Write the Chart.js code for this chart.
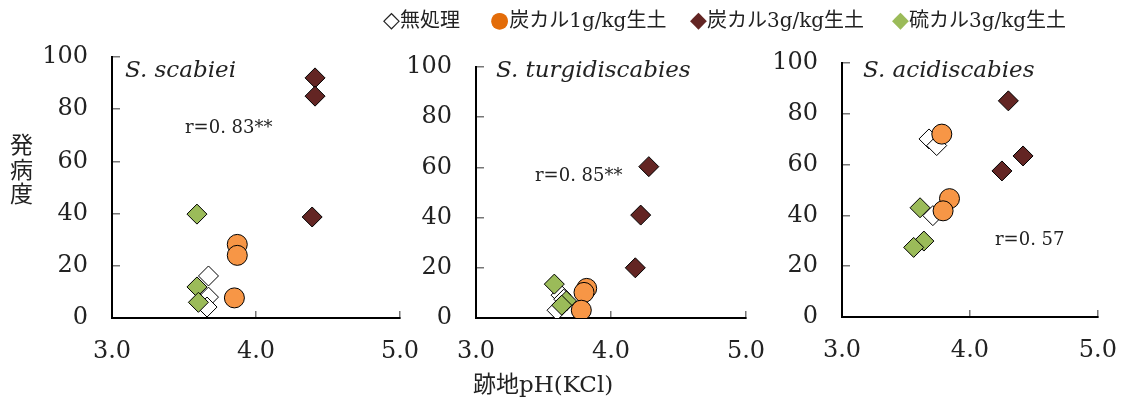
<!DOCTYPE html>
<html>
<head>
<meta charset="utf-8">
<script src="https://cdn.jsdelivr.net/npm/chart.js@4"></script>
<style>
  body { margin: 0; background: #fff; }
  #wrap { position: relative; width: 1143px; height: 401px; overflow: hidden; font-family: "DejaVu Serif", "Noto Sans CJK JP", serif; color: #222; }
  canvas { position: absolute; left: 0; top: 0; }
  .txt { position: absolute; white-space: nowrap; line-height: 1; }
  .sp { font-style: italic; font-size: 23px; }
  .r { font-size: 18px; }
  .leg { font-size: 20px; top: 9px; }
  .mk { font-size: 22px; }
</style>
</head>
<body>
<div id="wrap">
  <canvas id="c1" width="1143" height="401"></canvas>
  <canvas id="c2" width="1143" height="401"></canvas>
  <canvas id="c3" width="1143" height="401"></canvas>

  <div class="txt leg" style="left:383px"><span class="mk">◇</span>無処理</div>
  <div class="txt leg" style="left:490px"><span class="mk" style="color:#E36C09">●</span>炭カル1g/kg生土</div>
  <div class="txt leg" style="left:690px"><span class="mk" style="color:#632523">◆</span>炭カル3g/kg生土</div>
  <div class="txt leg" style="left:892px"><span class="mk" style="color:#9BBB59">◆</span>硫カル3g/kg生土</div>

  <div class="txt sp" style="left:125px; top:58px">S. scabiei</div>
  <div class="txt sp" style="left:496px; top:58px">S. turgidiscabies</div>
  <div class="txt sp" style="left:863px; top:58px">S. acidiscabies</div>

  <div class="txt r" style="left:185px; top:118px">r=0. 83**</div>
  <div class="txt r" style="left:535px; top:166px">r=0. 85**</div>
  <div class="txt r" style="left:995px; top:230px">r=0. 57</div>

  <div class="txt" style="left:10px; top:131px; font-size:23px; line-height:24.5px; font-family:'Noto Sans CJK JP'">発<br>病<br>度</div>
  <div class="txt" style="left:473px; top:373px; font-size:23px">跡地pH(KCl)</div>
</div>

<script>
// legend labels
var seriesNames = ['無処理', '炭カル1g/kg生土', '炭カル3g/kg生土', '硫カル3g/kg生土'];

// S. scabiei: pH (x) and disease index (y)
var ph1None = [3.67, 3.67, 3.66];
var di1None = [16.1, 8.0, 4.2];
var ph1Ca1 = [3.87, 3.87, 3.85];
var di1Ca1 = [28.2, 24.0, 7.7];
var ph1Ca3 = [4.41, 4.41, 4.39];
var di1Ca3 = [92.0, 85.0, 38.7];
var ph1S3 = [3.59, 3.59, 3.60];
var di1S3 = [39.8, 11.9, 6.0];

// S. turgidiscabies
var ph2None = [3.63, 3.65, 3.60];
var di2None = [9.1, 7.5, 3.1];
var ph2Ca1 = [3.82, 3.80, 3.78];
var di2Ca1 = [11.8, 10.2, 3.1];
var ph2Ca3 = [4.28, 4.22, 4.18];
var di2Ca3 = [60.3, 41.0, 20.0];
var ph2S3 = [3.58, 3.67, 3.635];
var di2S3 = [13.5, 6.8, 5.1];

// S. acidiscabies
var ph3None = [3.68, 3.74, 3.71];
var di3None = [70.1, 67.5, 39.9];
var ph3Ca1 = [3.78, 3.84, 3.79];
var di3Ca1 = [72.0, 46.6, 41.8];
var ph3Ca3 = [4.30, 4.415, 4.25];
var di3Ca3 = [85.1, 63.4, 57.5];
var ph3S3 = [3.61, 3.64, 3.56];
var di3S3 = [43.0, 29.9, 27.4];

var xTicks = [3, 4, 5];
var yTicks = [0, 20, 40, 60, 80, 100];

function pts(xs, ys) {
    var out = [];
    for (var i = 0; i < xs.length; i++) out.push({ x: xs[i], y: ys[i] });
    return out;
}

function makeDatasets(none, ca1, ca3, s3) {
    return [
        { label: seriesNames[0], data: none, pointStyle: 'rectRot', pointRadius: 10,
          backgroundColor: '#ffffff', borderColor: '#000000', borderWidth: 1, order: 4 },
        { label: seriesNames[3], data: s3, pointStyle: 'rectRot', pointRadius: 10,
          backgroundColor: '#9BBB59', borderColor: '#000000', borderWidth: 1, order: 3 },
        { label: seriesNames[1], data: ca1, pointStyle: 'circle', pointRadius: 10,
          backgroundColor: '#F79646', borderColor: '#000000', borderWidth: 1, order: 2 },
        { label: seriesNames[2], data: ca3, pointStyle: 'rectRot', pointRadius: 10,
          backgroundColor: '#632523', borderColor: '#000000', borderWidth: 1, order: 1 }
    ];
}

// chart area: left, right, top, bottom (pixels on the page)
function makeChart(id, datasets, area) {
    var yW = 100, xH = 70;
    return new Chart(document.getElementById(id), {
        type: 'scatter',
        data: { datasets: datasets },
        options: {
            responsive: false,
            animation: false,
            events: [],
            layout: {
                padding: {
                    left: area[0] - yW,
                    right: 1143 - area[1],
                    top: area[2],
                    bottom: 401 - area[3] - xH
                }
            },
            plugins: { legend: { display: false }, tooltip: { enabled: false } },
            scales: {
                x: {
                    type: 'linear', min: xTicks[0], max: xTicks[xTicks.length - 1],
                    afterFit: function(s) { s.height = xH; },
                    afterBuildTicks: function(s) { s.ticks = xTicks.map(function(v) { return { value: v }; }); },
                    grid: { drawOnChartArea: false, tickLength: -7, color: '#777', lineWidth: 1.5 },
                    border: { color: '#000', width: 2 },
                    ticks: {
                        padding: 26, color: '#222',
                        font: { family: 'DejaVu Serif', size: 24 },
                        callback: function(v) { return v.toFixed(1); }
                    }
                },
                y: {
                    type: 'linear', min: 0, max: 100,
                    afterFit: function(s) { s.width = yW; },
                    afterBuildTicks: function(s) { s.ticks = yTicks.map(function(v) { return { value: v }; }); },
                    grid: { drawOnChartArea: false, tickLength: -8, color: '#777', lineWidth: 1.5 },
                    border: { color: '#000', width: 2 },
                    ticks: {
                        padding: 32, color: '#222',
                        font: { family: 'DejaVu Serif', size: 24 }
                    }
                }
            }
        }
    });
}

makeChart('c1', makeDatasets(pts(ph1None, di1None), pts(ph1Ca1, di1Ca1), pts(ph1Ca3, di1Ca3), pts(ph1S3, di1S3)),
    [112, 400, 57, 318]);
makeChart('c2', makeDatasets(pts(ph2None, di2None), pts(ph2Ca1, di2Ca1), pts(ph2Ca3, di2Ca3), pts(ph2S3, di2S3)),
    [476, 746, 67, 318]);
makeChart('c3', makeDatasets(pts(ph3None, di3None), pts(ph3Ca1, di3Ca1), pts(ph3Ca3, di3Ca3), pts(ph3S3, di3S3)),
    [842, 1121, 63, 317]);
</script>
</body>
</html>
